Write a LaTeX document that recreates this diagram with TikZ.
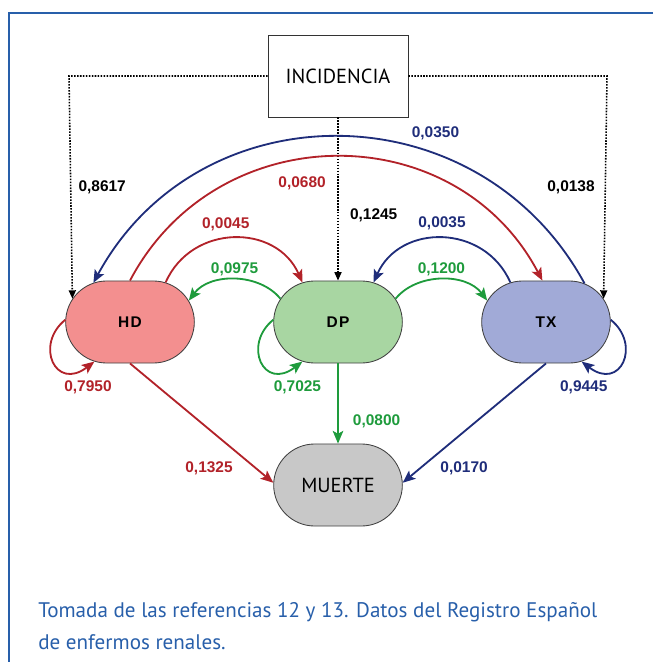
\documentclass[tikz,border=0pt]{standalone}
\usepackage{fontspec}
\setmainfont{PT Sans}
\newfontfamily\numfont{Liberation Sans}
\newfontfamily\statefont[LetterSpace=8]{Liberation Sans}
\usepackage{xcolor}
\usepackage{tikz}
\usetikzlibrary{positioning, arrows.meta, shapes.misc}

\definecolor{cred}{RGB}{178,34,41}
\definecolor{cgreen}{RGB}{30,155,60}
\definecolor{cblue}{RGB}{31,45,122}
\definecolor{hdfill}{RGB}{243,143,143}
\definecolor{dpfill}{RGB}{168,214,162}
\definecolor{txfill}{RGB}{161,170,215}
\definecolor{mufill}{RGB}{200,200,200}
\definecolor{capblue}{RGB}{40,95,170}

\begin{document}
\begin{tikzpicture}[x=0.025cm, y=-0.025cm,
  state/.style={rounded rectangle, draw=black!75, line width=0.6pt,
    minimum width=3.45cm, minimum height=2.05cm,
    font=\statefont\bfseries\fontsize{11}{13}\selectfont},
  num/.style={font=\numfont\bfseries\fontsize{11}{13}\selectfont, inner sep=2pt},
  flow/.style={line width=1.3pt, -{Stealth[length=9pt,width=7.5pt,inset=2pt]}},
  inc/.style={densely dotted, line width=1.1pt, -{Triangle[length=6pt,width=5pt]}}]

\useasboundingbox (0,0) rectangle (653,662);
\draw[capblue, line width=1pt] (653,13) -- (9,13) -- (9,662);

\node[draw=black!80, line width=0.6pt, minimum width=3.5cm, minimum height=2.05cm,
  font=\fontsize{14.5}{17}\selectfont] (INC) at (338,76) {INCIDENCIA};
\node[state, fill=hdfill] (HD) at (130,322) {HD};
\node[state, fill=dpfill] (DP) at (338,322) {DP};
\node[state, fill=txfill] (TX) at (546,322) {TX};
\node[state, fill=mufill, font=\fontsize{14.5}{17}\selectfont] (MU) at (338,485) {MUERTE};

\coordinate (cl) at (69,76);
\coordinate (cr) at (607,76);

% incidencia
\draw[inc] (INC.west) -- (cl) -- node[num, right=3pt] {0,8617} (HD.158);
\draw[inc] (INC.east) -- (cr) -- node[num, left=5pt] {0,0138} (TX.22);
\draw[inc] (INC.south) -- node[num, pos=0.6, right=6pt] {0,1245} (DP.north);

% large arcs
\draw[flow, cblue] (TX.45) .. controls +(-106,-195) and +(106,-195) ..
  node[num, pos=0.33, above=7pt] {0,0350} (HD.133);
\draw[flow, cred] (HD.north) .. controls +(87,-165) and +(-87,-165) ..
  node[num, pos=0.43, below=10pt] {0,0680} (TX.95);

% between neighbours
\draw[flow, cred] (HD.48) .. controls +(26,-59) and +(-26,-59) ..
  node[num, pos=0.45, above=3pt] {0,0045} (DP.132);
\draw[flow, cblue] (TX.132) .. controls +(-26,-59) and +(26,-59) ..
  node[num, above=3pt] {0,0035} (DP.48);
\draw[flow, cgreen] (DP.158) .. controls +(-21,-26) and +(21,-28) ..
  node[num, above] {0,0975} (HD.20);
\draw[flow, cgreen] (DP.22) .. controls +(21,-26) and +(-21,-28) ..
  node[num, above] {0,1200} (TX.160);

% self loops
\draw[flow, cred] (HD.178) .. controls +(-31,25) and +(-39,30) ..
  node[num, pos=0.85, below=5pt, xshift=7pt] {0,7950} (HD.228);
\draw[flow, cgreen] (DP.178) .. controls +(-31,25) and +(-39,30) ..
  node[num, pos=0.85, below=5pt, xshift=8pt] {0,7025} (DP.228);
\draw[flow, cblue] (TX.2) .. controls +(31,25) and +(39,30) ..
  node[num, pos=0.85, below=5pt, xshift=-10pt] {0,9445} (TX.312);

% muerte
\draw[flow, cred] (HD.south) -- node[num, pos=0.88, left=14pt] {0,1325} (MU.178);
\draw[flow, cgreen] (DP.south) -- node[num, pos=0.72, right=8pt] {0,0800} (MU.north);
\draw[flow, cblue] (TX.south) -- node[num, pos=0.88, right=12pt] {0,0170} (MU.2);

\node[anchor=base west, inner sep=0, text=capblue, font=\fontsize{15}{18}\selectfont]
  (cap1) at (38,617) {Tomada de las referencias 12 y 13. Datos del Registro Español};
\node[anchor=base west, inner sep=0, text=capblue, font=\fontsize{15}{18}\selectfont]
  (cap2) at (38,649) {de enfermos renales.};
\end{tikzpicture}
\end{document}
